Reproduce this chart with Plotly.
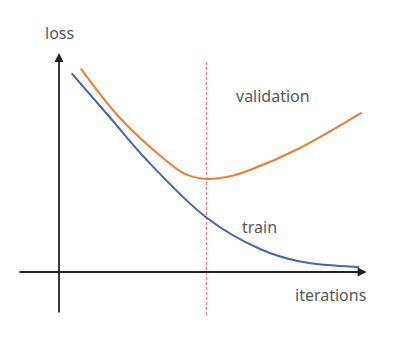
import plotly.graph_objects as go

# data space: origin at the axes crossing, x = iterations, y = loss (arbitrary units)
train_x = [12.7, 51, 87.7, 148, 201, 241, 300.3]
train_y = [198.7, 154.5, 112, 54, 23, 10.5, 5]

val_x = [21.7, 61, 104, 126, 148, 170, 191, 241, 302.7]
val_y = [203.7, 154, 114, 98.2, 93, 95.4, 102, 124, 159.3]

best_iter = 147.7
vline_y = [210, -43]

labels = ["loss", "validation", "train", "iterations"]
label_x = [0, 214, 200.5, 271.5]
label_y = [239.5, 176.5, 45.3, -22.5]

fig = go.Figure()
fig.add_trace(go.Scatter(x=[best_iter, best_iter], y=vline_y, mode="lines",
                         line=dict(color="#F4607A", width=1, dash="3px,2px"),
                         hoverinfo="skip", showlegend=False))
fig.add_trace(go.Scatter(x=val_x, y=val_y, mode="lines", line_shape="spline",
                         line=dict(color="#ED7D31", width=2), showlegend=False))
fig.add_trace(go.Scatter(x=train_x, y=train_y, mode="lines", line_shape="spline",
                         line=dict(color="#4468AE", width=2), showlegend=False))

# axes with arrows
fig.add_annotation(x=307.7, y=0, ax=-41, ay=0, xref="x", yref="y", axref="x", ayref="y",
                   text="", showarrow=True, arrowhead=2, arrowsize=1, arrowwidth=1.8,
                   arrowcolor="#222222")
fig.add_annotation(x=0, y=219, ax=0, ay=-42, xref="x", yref="y", axref="x", ayref="y",
                   text="", showarrow=True, arrowhead=2, arrowsize=1, arrowwidth=1.8,
                   arrowcolor="#222222")

for t, lx, ly in zip(labels, label_x, label_y):
    fig.add_annotation(x=lx, y=ly, xref="x", yref="y", text=t, showarrow=False,
                       font=dict(family="Noto Sans", size=16, color="#595959"))

fig.update_layout(width=404, height=340, margin=dict(l=0, r=0, t=0, b=0),
                  paper_bgcolor="white", plot_bgcolor="white",
                  xaxis=dict(range=[-59, 345], visible=False, fixedrange=True),
                  yaxis=dict(range=[-68, 272], visible=False, fixedrange=True))

fig.write_html("out.html")
